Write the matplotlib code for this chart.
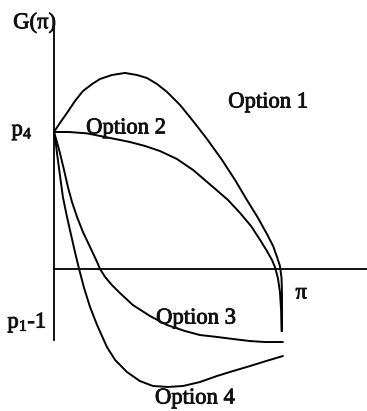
import matplotlib
matplotlib.use("Agg")
import matplotlib.pyplot as plt
import matplotlib.patheffects as pe

plt.rcParams['font.family'] = ['Liberation Serif', 'DejaVu Serif']
plt.rcParams['mathtext.fontset'] = 'custom'
plt.rcParams['mathtext.rm'] = 'Liberation Serif'
plt.rcParams['mathtext.it'] = 'Liberation Serif:italic'

# Payoff curves G(pi) for the four options; pi scaled to [0, 1], p4 = 1
opt1_x = [0.00, 0.026, 0.057, 0.092, 0.127, 0.167, 0.202, 0.254, 0.311, 0.364,
          0.408, 0.452, 0.496, 0.553, 0.610, 0.671, 0.737, 0.794, 0.846, 0.895,
          0.934, 0.961, 0.978, 0.991, 0.998, 1.000, 1.000]
opt1_y = [1.00, 1.066, 1.139, 1.226, 1.299, 1.350, 1.387, 1.416, 1.431, 1.416,
          1.394, 1.350, 1.292, 1.197, 1.080, 0.949, 0.796, 0.650, 0.504, 0.372,
          0.255, 0.168, 0.088, 0.022, -0.066, -0.190, -0.453]

opt2_x = [0.00, 0.066, 0.145, 0.202, 0.268, 0.333, 0.399, 0.465, 0.539, 0.610,
          0.697, 0.763, 0.816, 0.864, 0.904, 0.934, 0.956, 0.969, 0.982, 0.991,
          0.996, 0.998]
opt2_y = [1.00, 1.00, 0.990, 0.971, 0.949, 0.927, 0.898, 0.861, 0.803, 0.723,
          0.599, 0.504, 0.409, 0.314, 0.212, 0.131, 0.066, 0.015, -0.066, -0.168,
          -0.299, -0.453]

opt3_x = [0.00, 0.013, 0.026, 0.044, 0.061, 0.079, 0.101, 0.127, 0.158, 0.189,
          0.202, 0.224, 0.254, 0.289, 0.346, 0.421, 0.496, 0.575, 0.640, 0.715,
          0.785, 0.860, 0.925, 1.004]
opt3_y = [1.00, 0.927, 0.847, 0.723, 0.599, 0.489, 0.380, 0.270, 0.161, 0.051,
          0.0, -0.058, -0.117, -0.175, -0.263, -0.343, -0.409, -0.453, -0.482, -0.496,
          -0.511, -0.526, -0.533, -0.533]

opt4_x = [0.00, 0.009, 0.013, 0.026, 0.039, 0.057, 0.075, 0.092, 0.110, 0.132,
          0.158, 0.189, 0.232, 0.268, 0.320, 0.377, 0.434, 0.500, 0.566, 0.640,
          0.715, 0.785, 0.860, 0.930, 1.004]
opt4_y = [1.00, 0.905, 0.847, 0.686, 0.526, 0.380, 0.248, 0.124, 0.0, -0.139,
          -0.277, -0.409, -0.569, -0.664, -0.752, -0.818, -0.854, -0.861, -0.854, -0.825,
          -0.781, -0.745, -0.708, -0.672, -0.635]

curve_labels = ["Option 1", "Option 2", "Option 3", "Option 4"]
label_pos = [(0.939, 1.219), (0.316, 1.030), (0.623, -0.358), (0.618, -0.942)]

p4_level = 1.0
p1_minus_1 = -0.453

fig = plt.figure(figsize=(3.67, 4.11), dpi=100)
ax = fig.add_axes([0, 0, 1, 1])
ax.set_xlim(-0.2368, 1.3728)
ax.set_ylim(-1.0365, 1.9635)
ax.set_axis_off()

lw = 1.4
# axes
ax.plot([0, 0], [-0.518, 1.78], color='black', lw=1.3)
ax.plot([0, 1.38], [0, 0], color='black', lw=1.3)

for xs, ys in [(opt1_x, opt1_y), (opt2_x, opt2_y), (opt3_x, opt3_y), (opt4_x, opt4_y)]:
    ax.plot(xs, ys, color='black', lw=lw, solid_joinstyle='round', solid_capstyle='round')

fs = 16.3
heavy = [pe.withStroke(linewidth=0.6, foreground='#111111')]
for txt, (x, y) in zip(curve_labels, label_pos):
    ax.text(x, y, txt, fontsize=fs, ha='center', va='center', color='#111111',
            path_effects=heavy)

ax.text(-0.083, 1.80, r"G($\mathrm{\pi}$)", fontsize=fs, ha='center', va='center',
        color='#111111', path_effects=heavy)
ax.text(-0.140, p4_level, r"p$_{\mathit{4}}$", fontsize=fs, ha='center', va='center',
        color='#111111', path_effects=heavy)
ax.text(-0.118, p1_minus_1 + 0.06, r"p$_{\mathrm{1}}$-1", fontsize=fs, ha='center',
        va='center', color='#111111', path_effects=heavy)
ax.text(1.088, -0.175, r"$\mathrm{\pi}$", fontsize=fs, ha='center', va='center',
        color='#111111', path_effects=heavy)

fig.savefig("out.png", dpi=100)
